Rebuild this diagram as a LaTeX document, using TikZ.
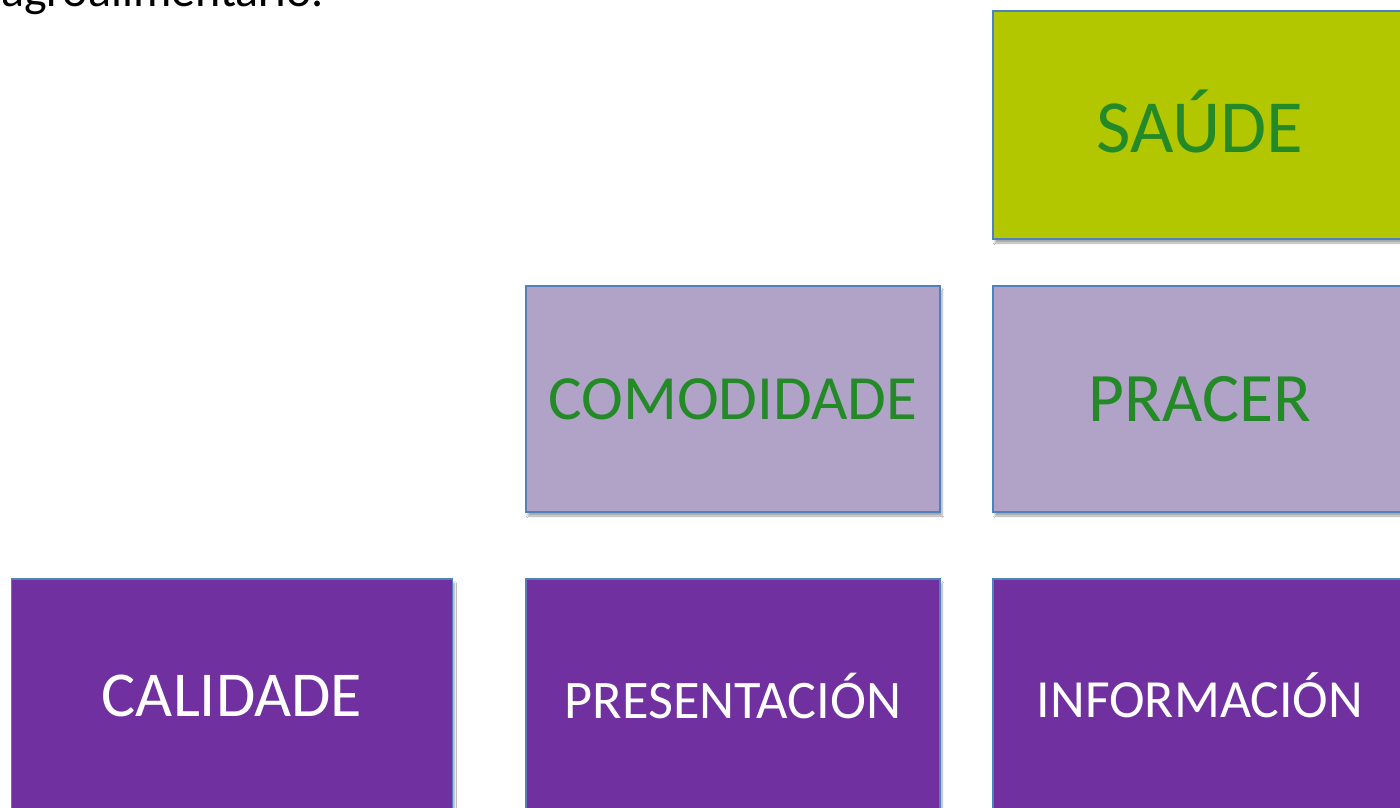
\documentclass[tikz,border=0pt]{standalone}
\usepackage{fontspec}
\setmainfont{Carlito}
\usetikzlibrary{shadows.blur}
\definecolor{saude}{HTML}{B2C700}
\definecolor{lav}{HTML}{B1A2C7}
\definecolor{purp}{HTML}{7030A0}
\definecolor{edge}{HTML}{4F81BD}
\definecolor{gtext}{HTML}{238A27}
\tikzset{
  box/.style={draw=edge, line width=1.5pt, minimum width=414pt, minimum height=226pt, inner sep=0pt,
    blur shadow={shadow xshift=2pt, shadow yshift=-4pt, shadow blur steps=6, shadow opacity=35}},
  green box/.style={box, fill=saude, text=gtext},
  lav box/.style={box, fill=lav, text=gtext},
  dark box/.style={box, fill=purp, text=white, minimum height=250pt},
}
\begin{document}
\begin{tikzpicture}[x=1pt,y=-1pt]
\useasboundingbox (0,0) rectangle (1400,808);
\clip (0,0) rectangle (1400,808);
\fill[white] (0,0) rectangle (1400,808);
\node[anchor=base west, inner sep=0pt, font=\fontsize{48}{56}\selectfont] (top) at (1,7) {agroalimentario.};
\node[green box, minimum height=228pt, font=\fontsize{75}{80}\selectfont] (saude) at (1200,125) {\raisebox{7pt}{SAÚDE}};
\node[lav box, font=\fontsize{63}{70}\selectfont] (comod) at (733,399) {\raisebox{-3pt}{COMODIDADE}};
\node[lav box, font=\fontsize{69.5}{74}\selectfont] (pracer) at (1200,399) {PRACER};
\node[dark box, minimum width=441pt, font=\fontsize{64}{70}\selectfont] (calid) at (232,704) {\raisebox{17pt}{CALIDADE}};
\node[dark box, font=\fontsize{54.3}{60}\selectfont] (present) at (733,704) {\raisebox{17pt}{PRESENTACIÓN}};
\node[dark box, font=\fontsize{53.7}{60}\selectfont] (inform) at (1200,704) {\raisebox{17pt}{INFORMACIÓN}};
\end{tikzpicture}
\end{document}
